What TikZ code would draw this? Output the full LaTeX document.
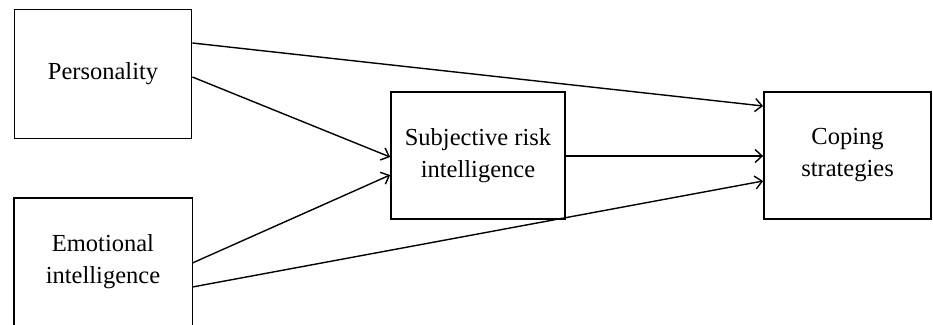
\documentclass[tikz,border=0pt]{standalone}
\usepackage{fontspec}
\setmainfont{Liberation Serif}
\usetikzlibrary{arrows.meta}
\begin{document}
\begin{tikzpicture}[x=1pt,y=-1pt,
  boxline/.style={line width=1.8pt},
  box/.style={draw, boxline, rectangle, inner sep=0pt, align=center,
    font=\fontsize{24.5}{32}\selectfont},
  link/.style={line width=1.4pt, -{Straight Barb[length=7pt,width=13pt,line width=1.4pt]}}]
\useasboundingbox (0,0) rectangle (933,324);
\node[box, minimum width=177pt, minimum height=129pt] (pers) at (103,74) {Personality};
\node[box, draw=none, minimum width=177pt, minimum height=126pt] (emo) at (103,262) {Emotional\\intelligence};
\draw[boxline] (emo.north west) rectangle ([yshift=-12pt]emo.south east);
\node[box, minimum width=174pt, minimum height=127pt] (subj) at (478,155.5) {Subjective risk\\intelligence};
\node[box, minimum width=167pt, minimum height=127pt] (cope) at (847.5,155.5) {Coping\\strategies};
\draw[link] ([yshift=31pt]pers.east) -- ([yshift=49.5pt]cope.west);
\draw[link] ([yshift=-3pt]pers.east) -- ([yshift=-1.5pt]subj.west);
\draw[link] ([yshift=-1pt]emo.east) -- ([yshift=-19.5pt]subj.west);
\draw[link] ([yshift=-25pt]emo.east) -- ([yshift=-25.5pt]cope.west);
\draw[link] ([yshift=-0.5pt]subj.east) -- ([yshift=-0.5pt]cope.west);
\end{tikzpicture}
\end{document}
